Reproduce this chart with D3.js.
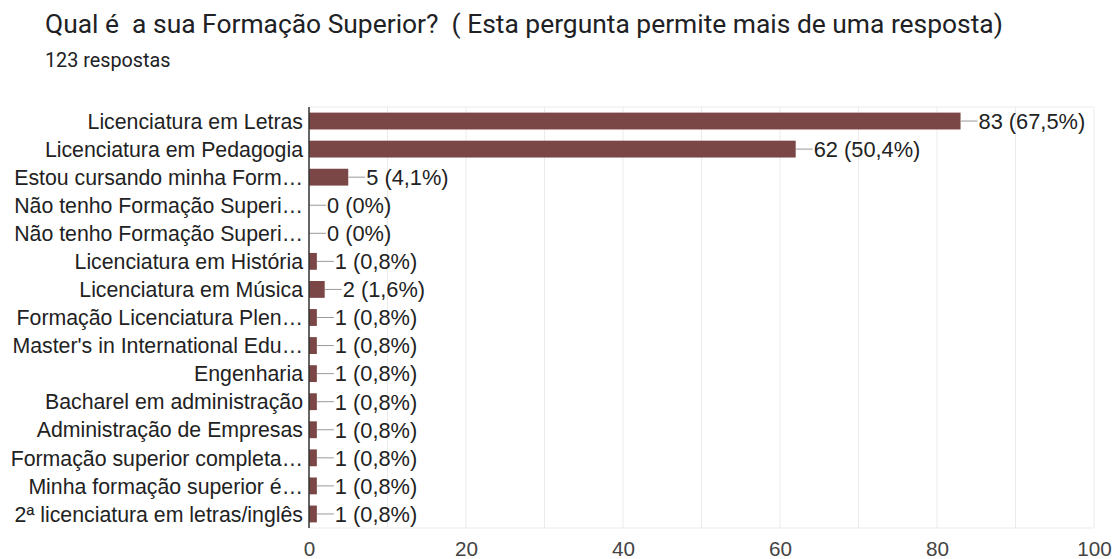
<!DOCTYPE html>
<html>
<head>
<meta charset="utf-8">
<script src="https://cdn.jsdelivr.net/npm/d3@7"></script>
<style>
  body { margin: 0; background: #fff; }
  svg { display: block; }
</style>
</head>
<body>
<div id="chart"></div>
<script>
const categories = [
  "Licenciatura em Letras",
  "Licenciatura em Pedagogia",
  "Estou cursando minha Form…",
  "Não tenho Formação Superi…",
  "Não tenho Formação Superi…",
  "Licenciatura em História",
  "Licenciatura em Música",
  "Formação Licenciatura Plen…",
  "Master's in International Edu…",
  "Engenharia",
  "Bacharel em administração",
  "Administração de Empresas",
  "Formação superior completa…",
  "Minha formação superior é…",
  "2ª licenciatura em letras/inglês"
]
const counts = [83, 62, 5, 0, 0, 1, 2, 1, 1, 1, 1, 1, 1, 1, 1]
const percents = ["67,5%", "50,4%", "4,1%", "0%", "0%", "0,8%", "1,6%", "0,8%", "0,8%", "0,8%", "0,8%", "0,8%", "0,8%", "0,8%", "0,8%"]
const xTicks = [0, 20, 40, 60, 80, 100]

const width = 1114
const height = 559
const margin = {top: 107, right: 20, bottom: 31, left: 309}
const chartFont = '"Liberation Sans", Arial, sans-serif'

const svg = d3.create('svg')
  .attr('width', width)
  .attr('height', height)
  .attr('font-family', 'Roboto, sans-serif')

document.getElementById('chart').appendChild(svg.node())

// title
svg.append('text')
  .attr('x', 45).attr('y', 33)
  .attr('font-size', 26.4)
  .attr('fill', '#202124')
  .style('white-space', 'pre')
  .text('Qual é  a sua Formação Superior?  ( Esta pergunta permite mais de uma resposta)')

svg.append('text')
  .attr('x', 45).attr('y', 67)
  .attr('font-size', 19.8)
  .attr('fill', '#202124')
  .text('123 respostas')

const x = d3.scaleLinear()
  .domain([0, 100])
  .range([margin.left, width - margin.right])

const y = d3.scaleBand()
  .domain(d3.range(categories.length))
  .range([margin.top, height - margin.bottom])
  .paddingInner(0.4)
  .paddingOuter(0.2)

// grid
svg.append('g')
  .selectAll('line')
  .data(d3.range(10, 101, 10))
  .join('line')
    .attr('x1', d => x(d)).attr('x2', d => x(d))
    .attr('y1', margin.top).attr('y2', height - margin.bottom)
    .attr('stroke', '#ebebeb')
    .attr('stroke-width', 1)

svg.append('line')
  .attr('x1', margin.left).attr('x2', width - margin.right)
  .attr('y1', margin.top).attr('y2', margin.top)
  .attr('stroke', '#ebebeb')
svg.append('line')
  .attr('x1', margin.left).attr('x2', width - margin.right)
  .attr('y1', height - margin.bottom).attr('y2', height - margin.bottom)
  .attr('stroke', '#ebebeb')

// bars
svg.append('g')
  .selectAll('rect')
  .data(counts)
  .join('rect')
    .attr('x', x(0))
    .attr('y', (d, i) => y(i))
    .attr('width', d => x(d) - x(0))
    .attr('height', y.bandwidth())
    .attr('fill', '#7a4646')

// leader lines + value labels
const lab = svg.append('g')
  .selectAll('g')
  .data(counts)
  .join('g')
    .attr('transform', (d, i) => `translate(${x(d)},${y(i) + y.bandwidth() / 2})`)

lab.append('line')
  .attr('x1', 0).attr('x2', 17)
  .attr('stroke', '#999')
  .attr('stroke-width', 1)

lab.append('text')
  .attr('x', 18)
  .attr('dy', '0.36em')
  .attr('font-family', chartFont)
  .attr('font-size', 21.8)
  .attr('fill', '#222')
  .text((d, i) => `${d} (${percents[i]})`)

// category labels
svg.append('g')
  .selectAll('text')
  .data(categories)
  .join('text')
    .attr('x', margin.left - 6)
    .attr('y', (d, i) => y(i) + y.bandwidth() / 2)
    .attr('dy', '0.36em')
    .attr('text-anchor', 'end')
    .attr('font-family', chartFont)
    .attr('font-size', 21.3)
    .attr('fill', '#222')
    .text(d => d)

// baseline axis
svg.append('line')
  .attr('x1', margin.left).attr('x2', margin.left)
  .attr('y1', margin.top).attr('y2', height - margin.bottom)
  .attr('stroke', '#333')
  .attr('stroke-width', 1.5)

// x tick labels
const xAxis = d3.axisBottom(x).tickValues(xTicks).tickSize(0).tickPadding(0)
svg.append('g')
  .attr('transform', `translate(0,${height - 3})`)
  .call(xAxis)
  .call(g => g.select('.domain').remove())
  .call(g => g.selectAll('text')
    .attr('dy', 0)
    .attr('font-family', chartFont)
    .attr('font-size', 20.7)
    .attr('fill', '#444'))
</script>
</body>
</html>
